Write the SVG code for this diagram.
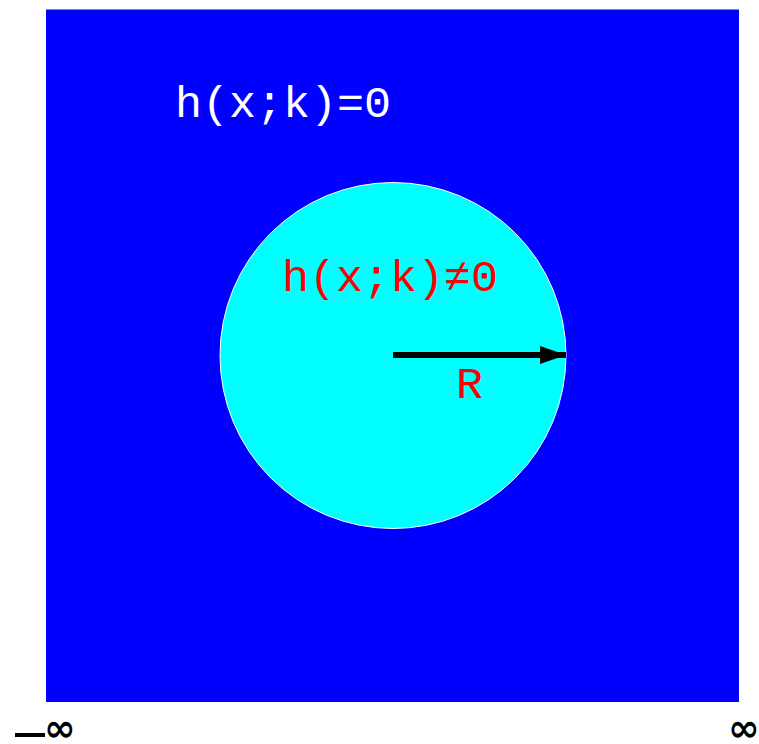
<svg xmlns="http://www.w3.org/2000/svg" width="759" height="744" viewBox="0 0 759 744">
<style>
.t{font-family:"Liberation Mono","DejaVu Sans Mono",monospace;font-size:45px}
.inf{font-family:"DejaVu Sans",sans-serif;font-size:38px;font-weight:bold;fill:#000}
</style>
<defs>
<marker id="ah" markerUnits="userSpaceOnUse" markerWidth="26" markerHeight="18" refX="26" refY="9" orient="auto">
<path d="M0,0 L26,9 L0,18 Z" fill="#000"/>
</marker>
</defs>
<rect width="759" height="744" fill="#fff"/>
<g id="outer">
<rect x="46" y="9.5" width="693" height="692.5" fill="#0000ff"/>
<text class="t" x="175" y="117" fill="#fff">h(x;k)=0</text>
</g>
<g id="disk">
<circle cx="393" cy="355.5" r="173" fill="#00ffff" stroke="#fff" stroke-width="1"/>
<text class="t" x="282" y="291" fill="#f00">h(x;k)≠0</text>
</g>
<g id="connectors">
<line x1="393" y1="355" x2="566" y2="355" stroke="#000" stroke-width="6" marker-end="url(#ah)"/>
<text class="t" x="456" y="398" fill="#f00">R</text>
</g>
<g id="axis">
<rect x="15" y="733" width="30" height="4" fill="#000"/>
<text class="inf" x="44" y="741">∞</text>
<text class="inf" x="728" y="741">∞</text>
</g>
</svg>
